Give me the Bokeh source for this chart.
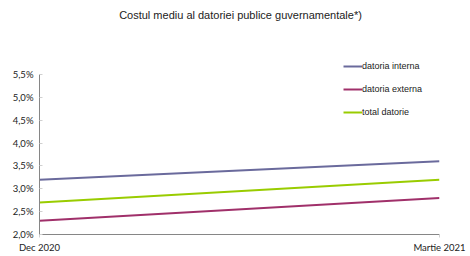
from bokeh.plotting import figure
from bokeh.models import Range1d, FixedTicker, Legend, LegendItem, Label
from bokeh.embed import file_html
from bokeh.resources import INLINE

# ---- data ----
periods = ["Dec 2020", "Martie 2021"]
x_pos = [0, 1]
datoria_interna = [3.2, 3.6]
datoria_externa = [2.3, 2.8]
total_datorie = [2.7, 3.2]
y_ticks = [2.0, 2.5, 3.0, 3.5, 4.0, 4.5, 5.0, 5.5]
y_tick_labels = ["2,0%", "2,5%", "3,0%", "3,5%", "4,0%", "4,5%", "5,0%", "5,5%"]
series_names = ["datoria interna", "datoria externa", "total datorie"]
title_text = "Costul mediu al datoriei publice guvernamentale*)"

W, H = 470, 256
BOTTOM = 22
TOP = 0  # frame reaches the top so title and legend are inside it
y_min, y_max_axis = 2.0, 5.5
axis_px = 160.0  # pixel length of the visible axis 2,0%..5,5%
y_top = y_min + (y_max_axis - y_min) * (H - BOTTOM - TOP) / axis_px

p = figure(width=W, height=H, output_backend="svg", toolbar_location=None,
           x_range=Range1d(0, 1), y_range=Range1d(y_min, y_top),
           min_border_left=39, min_border_right=31, min_border_top=TOP,
           min_border_bottom=BOTTOM, background_fill_color="white",
           border_fill_color="white", outline_line_color=None)

title = Label(x=201, y=220, x_units="screen", y_units="screen", text=title_text,
              text_align="center", text_baseline="middle",
              text_font="Liberation Sans", text_font_size="11px",
              text_color="#222222")
p.add_layout(title)

p.xgrid.visible = False
p.ygrid.visible = False

colors = ["#6A6A9C", "#A0306A", "#99CC00"]
renderers = []
for vals, c in zip([datoria_interna, datoria_externa, total_datorie], colors):
    r = p.line(x_pos, vals, line_color=c, line_width=2)
    renderers.append(r)

# y axis
p.yaxis.ticker = FixedTicker(ticks=y_ticks)
p.yaxis.bounds = (y_min, y_max_axis)
p.yaxis.major_label_overrides = {t: l for t, l in zip(y_ticks, y_tick_labels)}
p.yaxis.axis_line_color = "#868686"
p.yaxis.major_tick_line_color = "#d0d0d0"
p.yaxis.major_tick_in = 3
p.yaxis.major_tick_out = 0
p.yaxis.minor_tick_line_color = None
p.yaxis.major_label_text_font = "Lato"
p.yaxis.major_label_text_font_size = "9.5px"
p.yaxis.major_label_text_color = "#222222"
p.yaxis.major_label_standoff = 6

# x axis
p.xaxis.ticker = FixedTicker(ticks=x_pos)
p.xaxis.major_label_overrides = {x: s for x, s in zip(x_pos, periods)}
p.xaxis.axis_line_color = "#868686"
p.xaxis.major_tick_line_color = "#d0d0d0"
p.xaxis.major_tick_in = 0
p.xaxis.major_tick_out = 3
p.xaxis.minor_tick_line_color = None
p.xaxis.major_label_text_font = "Lato"
p.xaxis.major_label_text_font_size = "9.5px"
p.xaxis.major_label_text_color = "#222222"
p.xaxis.major_label_standoff = 4

legend = Legend(items=[LegendItem(label=n, renderers=[r]) for n, r in zip(series_names, renderers)],
                location=(304, 117), background_fill_alpha=0, border_line_color=None,
                label_text_font="Liberation Sans", label_text_font_size="9px",
                label_text_color="#222222", label_standoff=0, glyph_width=19,
                glyph_height=10, label_height=10, spacing=13, padding=0, margin=0)
p.add_layout(legend, "center")

open("out.html", "w").write(file_html(p, INLINE))
